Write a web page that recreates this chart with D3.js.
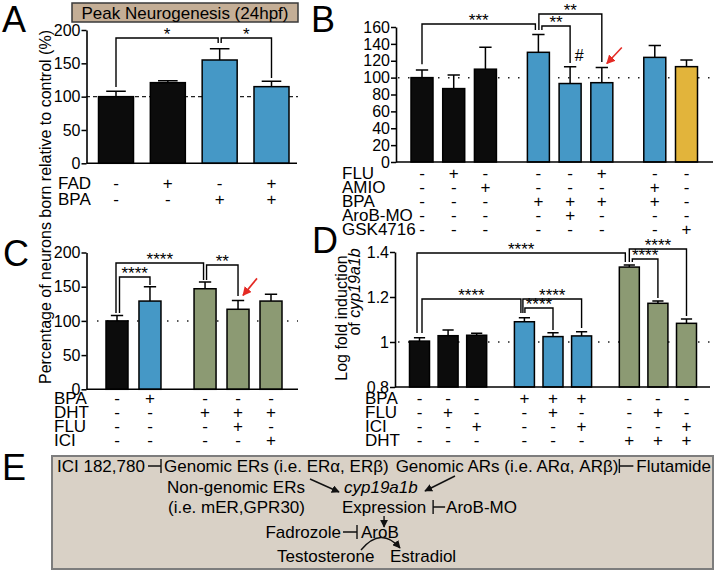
<!DOCTYPE html>
<html><head><meta charset="utf-8">
<script src="https://cdn.jsdelivr.net/npm/d3@7"></script>
<style>body{margin:0;background:#fff} svg{display:block} text{font-family:"Liberation Sans",Arial,Helvetica,sans-serif}</style>
</head><body><svg id="c" width="717" height="572"></svg>
<script>
// ---------- DATA ----------
// Panel A
const aRowNames = ["FAD","BPA"];
const aSigns = [["-","+","-","+"],["-","-","+","+"]];
const aMeans = [100,121,155,115];
const aErrTop = [108,124,172,123];
const aGroups = [0,0,0,0];
const aColorKeys = ["ctrl","ctrl","bpa","bpa"];
const aTicks = [0,50,100,150,200];
// Panel B
const bRowNames = ["FLU","AMIO","BPA","AroB-MO","GSK4716"];
const bSigns = [
  ["-","+","-","-","-","+","-","-"],
  ["-","-","+","-","-","-","+","-"],
  ["-","-","-","+","+","+","+","-"],
  ["-","-","-","-","+","-","-","-"],
  ["-","-","-","-","-","-","-","+"]];
const bMeans = [100,87,110,130,93,94,124,113];
const bErrTop = [109,103,136,151,113,112,138,121];
const bGroups = [0,0,0,1,1,1,2,2];
const bColorKeys = ["ctrl","ctrl","ctrl","bpa","bpa","bpa","bpa","gsk"];
const bTicks = [0,20,40,60,80,100,120,140,160];
// Panel C
const cRowNames = ["BPA","DHT","FLU","ICI"];
const cSigns = [
  ["-","+","-","-","-"],
  ["-","-","+","+","+"],
  ["-","-","-","+","-"],
  ["-","-","-","-","+"]];
const cMeans = [100,129,147,117,129];
const cErrTop = [108,150,157,130,139];
const cGroups = [0,0,1,1,1];
const cColorKeys = ["ctrl","bpa","dht","dht","dht"];
const cTicks = [0,50,100,150,200];
// Panel D
const dRowNames = ["BPA","FLU","ICI","DHT"];
const dSigns = [
  ["-","-","-","+","+","+","-","-","-"],
  ["-","+","-","-","+","-","-","+","-"],
  ["-","-","+","-","-","+","-","-","+"],
  ["-","-","-","-","-","-","+","+","+"]];
const dMeans = [1.004,1.028,1.03,1.09,1.024,1.027,1.333,1.172,1.083];
const dErrTop = [1.019,1.053,1.039,1.108,1.041,1.046,1.342,1.182,1.102];
const dGroups = [0,0,0,1,1,1,2,2,2];
const dColorKeys = ["ctrl","ctrl","ctrl","bpa","bpa","bpa","dht","dht","dht"];
const dTicks = [0.8,1,1.2,1.4];

// significance brackets (bar indices, levels in data units)
const aSig = [
  {a:0,b:2,bdx:-1.5,h:188,ya:114.5,yb:180.5,label:"*"},
  {a:2,adx:1.5,b:3,h:188,ya:180.5,yb:128,label:"*"}];
const bSig = [
  {a:0,b:3,bdx:-3,h:163.6,ya:116,yb:156.4,label:"***"},
  {a:3,adx:0.5,b:5,h:175.4,ya:156.4,yb:118.5,label:"**"},
  {a:3,adx:3.5,b:4,h:161.2,ya:156.4,yb:117.3,label:"**"}];
const cSig = [
  {a:0,adx:-1,b:2,bdx:-1.5,h:184.6,ya:111.5,yb:159.8,label:"****"},
  {a:0,adx:2.5,b:1,h:164.2,ya:111.5,yb:152.5,label:"****"},
  {a:2,adx:1.5,b:3,h:181.7,ya:159.8,yb:136.4,label:"**"}];
const dSig = [
  {a:0,adx:-2.5,b:6,bdx:-4,h:1.3956,ya:1.04,yb:1.3556,label:"****"},
  {a:6,b:8,h:1.4133,ya:1.3556,yb:1.1156,label:"****"},
  {a:6,adx:3,b:7,h:1.3689,ya:1.3556,yb:1.1956,label:"****"},
  {a:0,adx:2.5,b:3,bdx:-3.5,h:1.1911,ya:1.04,yb:1.1289,label:"****"},
  {a:3,adx:-1.5,b:5,h:1.1911,ya:1.1289,yb:1.0622,label:"****"},
  {a:3,adx:0.5,b:4,h:1.1511,ya:1.1289,yb:1.0533,label:"****"}];

// ---------- DRAWING ----------
const svg = d3.select("#c");
const colors = {ctrl:"#0c0c0c", bpa:"#4598C6", dht:"#8C9A73", gsk:"#E2B43B"};
const defs = svg.append("defs");
function marker(id, color, size){
  defs.append("marker").attr("id",id).attr("viewBox","0 0 10 10").attr("refX",9).attr("refY",5)
    .attr("markerWidth",size).attr("markerHeight",size).attr("markerUnits","userSpaceOnUse").attr("orient","auto")
    .append("path").attr("d","M0,0 L10,5 L0,10 z").attr("fill",color);
}
marker("redArr","#E42A24",9);
marker("blkArr","#111",8);

// measure sign widths for centring inside one text row
const probe = svg.append("text").attr("font-size",17);
const signW = {};
["-","+"].forEach(s=>{ probe.text(s); signW[s] = probe.node().getComputedTextLength(); });
probe.remove();

function drawPanel(p){
  const g = svg.append("g");
  const pos = p.groups.map((gr,i)=> i + gr*0.67);
  const x = d3.scaleLinear().domain([0, d3.max(pos)]).range(p.xRange);
  const y = d3.scaleLinear().domain(p.domain).range(p.yRange);
  const base = y(p.domain[0]);
  // reference line
  g.append("line").attr("x1",p.refX[0]).attr("x2",p.refX[1])
    .attr("y1",y(p.refValue)).attr("y2",y(p.refValue))
    .attr("stroke","#222").attr("stroke-width",p.refDash?1.3:1.5)
    .attr("stroke-dasharray",p.refDash||"1.5 8.5");
  // bars
  g.selectAll("rect.bar").data(p.means).join("rect").attr("class","bar")
    .attr("x",(d,i)=>x(pos[i])-p.barW/2).attr("y",d=>y(d))
    .attr("width",p.barW).attr("height",d=>base-y(d))
    .attr("fill",(d,i)=>colors[p.colorKeys[i]]).attr("stroke","#000").attr("stroke-width",1.5);
  // error bars
  const cw = p.barW*0.56;
  g.selectAll("path.err").data(p.errTop).join("path").attr("class","err")
    .attr("d",(d,i)=>{const cx=x(pos[i]);return `M${cx},${y(p.means[i])}V${y(d)}M${cx-cw/2},${y(d)}H${cx+cw/2}`;})
    .attr("stroke","#000").attr("stroke-width",1.5).attr("fill","none");
  // y axis
  const ax = g.append("g").attr("transform",`translate(${p.axisX},0)`)
    .call(d3.axisLeft(y).tickValues(p.ticks).tickFormat(p.fmt||d3.format("d")).tickSize(5).tickSizeOuter(0).tickPadding(1));
  ax.attr("font-size",p.tickFont||16).attr("font-family",'"Liberation Sans",Arial,sans-serif');
  ax.select(".domain").attr("stroke","#000").attr("stroke-width",1.6);
  ax.selectAll(".tick line").attr("stroke","#000").attr("stroke-width",1.5);
  ax.selectAll(".tick text").attr("fill","#000");
  // x axis line
  g.append("line").attr("x1",p.axisX).attr("x2",p.xAxisEnd).attr("y1",base).attr("y2",base)
    .attr("stroke","#000").attr("stroke-width",1.6);
  // treatment rows: label + signs in one text line
  p.rowNames.forEach((name,r)=>{
    const yy = p.rowY0 + r*p.rowDy;
    const t = g.append("text").attr("y",yy).attr("font-size",17);
    t.append("tspan").attr("x",p.rowLabelX).text(name);
    p.signs[r].forEach((s,i)=> t.append("tspan").attr("x",x(pos[i])-signW[s]/2).text(s));
  });
  // brackets
  p.sig.forEach(s=>{
    const xa = x(pos[s.a])+(s.adx||0), xb = x(pos[s.b])+(s.bdx||0);
    g.append("path").attr("d",`M${xa},${y(s.ya)}V${y(s.h)}H${xb}V${y(s.yb)}`)
      .attr("fill","none").attr("stroke","#000").attr("stroke-width",1.4);
    g.append("text").attr("x",(xa+xb)/2).attr("y",y(s.h)+2).attr("text-anchor","middle")
      .attr("font-size",17).text(s.label);
  });
  (p.marks||[]).forEach(m=>{
    const cx = x(pos[m.bar]);
    g.append("text").attr("x",cx+m.dx).attr("y",y(m.value)).attr("text-anchor","middle").attr("font-size",16).text(m.text);
  });
  (p.redArrows||[]).forEach(m=>{
    const cx = x(pos[m.bar]), ey = y(p.errTop[m.bar]);
    g.append("line").attr("x1",cx+m.tail[0]).attr("y1",ey+m.tail[1]).attr("x2",cx+m.tip[0]).attr("y2",ey+m.tip[1])
      .attr("stroke","#E42A24").attr("stroke-width",1.6).attr("marker-end","url(#redArr)");
  });
}

drawPanel({means:aMeans,errTop:aErrTop,groups:aGroups,colorKeys:aColorKeys,rowNames:aRowNames,signs:aSigns,
  ticks:aTicks,domain:[0,200],yRange:[163.3,30],xRange:[116,271.5],axisX:86.5,xAxisEnd:297,barW:35,
  refValue:100,refDash:"4 3",refX:[86,298],rowLabelX:58,rowY0:189,rowDy:16,sig:aSig});
drawPanel({means:bMeans,errTop:bErrTop,groups:bGroups,colorKeys:bColorKeys,rowNames:bRowNames,signs:bSigns,
  ticks:bTicks,domain:[0,160],yRange:[162,27],xRange:[422,686.5],axisX:396,xAxisEnd:713,barW:22,
  refValue:100,refX:[398,717],rowLabelX:342,rowY0:179,rowDy:14,sig:bSig,
  marks:[{bar:4,dx:9,value:119.7,text:"#"}],
  redArrows:[{bar:5,tip:[5,-4],tail:[20,-20]}]});
drawPanel({means:cMeans,errTop:cErrTop,groups:cGroups,colorKeys:cColorKeys,rowNames:cRowNames,signs:cSigns,
  ticks:cTicks,domain:[0,200],yRange:[389.3,252.5],xRange:[117,271],axisX:86.5,xAxisEnd:298,barW:22,
  refValue:100,refX:[97,298],rowLabelX:54,rowY0:404,rowDy:14,sig:cSig,
  redArrows:[{bar:3,tip:[5,-5],tail:[19,-22]}]});
drawPanel({means:dMeans,errTop:dErrTop,groups:dGroups,colorKeys:dColorKeys,rowNames:dRowNames,signs:dSigns,
  ticks:dTicks,fmt:d3.format("~g"),domain:[0.8,1.4],yRange:[387,252],xRange:[419.5,686.5],axisX:395,xAxisEnd:710,barW:20,
  refValue:1,refX:[398,717],rowLabelX:365,rowY0:404,rowDy:14,sig:dSig});

// title box A
svg.append("rect").attr("x",72).attr("y",3).attr("width",226).attr("height",19)
  .attr("fill","#C4AE96").attr("stroke","#3a3a3a").attr("stroke-width",1.5);
svg.append("text").attr("x",185).attr("y",19).attr("text-anchor","middle").attr("font-size",17).text("Peak Neurogenesis (24hpf)");

// panel letters
[["A",2,32],["B",311,32],["C",3,266],["D",312,253],["E",2,480]].forEach(([t,x,y])=>
  svg.append("text").attr("x",x).attr("y",y).attr("font-size",36).text(t));

// y labels
svg.append("text").attr("transform","translate(51,207) rotate(-90)").attr("text-anchor","middle")
  .attr("font-size",16).text("Percentage of neurons born relative to control (%)");
svg.append("text").attr("transform","translate(347,318) rotate(-90)").attr("text-anchor","middle")
  .attr("font-size",16).text("Log fold induction");
const l2 = svg.append("text").attr("transform","translate(360,292) rotate(-90)").attr("text-anchor","middle").attr("font-size",16);
l2.append("tspan").text("of ");
l2.append("tspan").attr("font-style","italic").text("cyp19a1b");

// ---------- Panel E diagram ----------
const eg = svg.append("g").attr("font-size",17);
eg.append("rect").attr("x",52).attr("y",456).attr("width",661).attr("height",113)
  .attr("fill","#D9D1C6").attr("stroke","#7d7d7d").attr("stroke-width",2);
function T(txt,x,y,anchor,italic){
  const t = eg.append("text").attr("x",x).attr("y",y).attr("text-anchor",anchor||"start").text(txt);
  if(italic) t.attr("font-style","italic");
  return t;
}
function L(d,arrow){ const p = eg.append("path").attr("d",d).attr("fill","none").attr("stroke","#111").attr("stroke-width",1.4);
  if(arrow) p.attr("marker-end","url(#blkArr)"); return p; }
const r1=472, r2=493, r3=513, r4=538, r5=562;
// row 1
T("ICI 182,780",57,r1);
L(`M148,${r1-6}H161M161,${r1-13}V${r1+1}`);
T("Genomic ERs (i.e. ER\u03b1, ER\u03b2)",164,r1);
const flu = T("Flutamide",711,r1,"end");
const fs = 711 - flu.node().getComputedTextLength();
L(`M${fs-17},${r1-13}V${r1+1}M${fs-17},${r1-6}H${fs-3}`);
T("Genomic ARs (i.e. AR\u03b1, AR\u03b2)",fs-18,r1,"end");
// row 2
T("Non-genomic ERs",167,r2);
L(`M310,${r2-14}L339,${r2-1}`,true);
T("cyp19a1b",344,r2,"start",true);
L(`M455,${r2-17}L425,${r2-2}`,true);
// row 3
T("(i.e. mER,GPR30)",168,r3);
const ex = T("Expression",342,r3);
const exEnd = 342 + ex.node().getComputedTextLength();
const exMid = 342 + ex.node().getComputedTextLength()/2;
L(`M${exEnd+7},${r3-13}V${r3+1}M${exEnd+7},${r3-6}H${exEnd+19}`);
T("AroB-MO",exEnd+20,r3);
L(`M${exMid},${r3+3}V${r3+14}`,true);
// row 4
T("AroB",361,r4);
L(`M343,${r4-6}H357M357,${r4-13}V${r4+1}`);
T("Fadrozole",341,r4,"end");
// row 5
T("Testosterone",277,r5);
T("Estradiol",390,r5);
L(`M361,${r5-12}Q381,${r5-36} 400,${r5-14}`,true);
</script></body></html>
